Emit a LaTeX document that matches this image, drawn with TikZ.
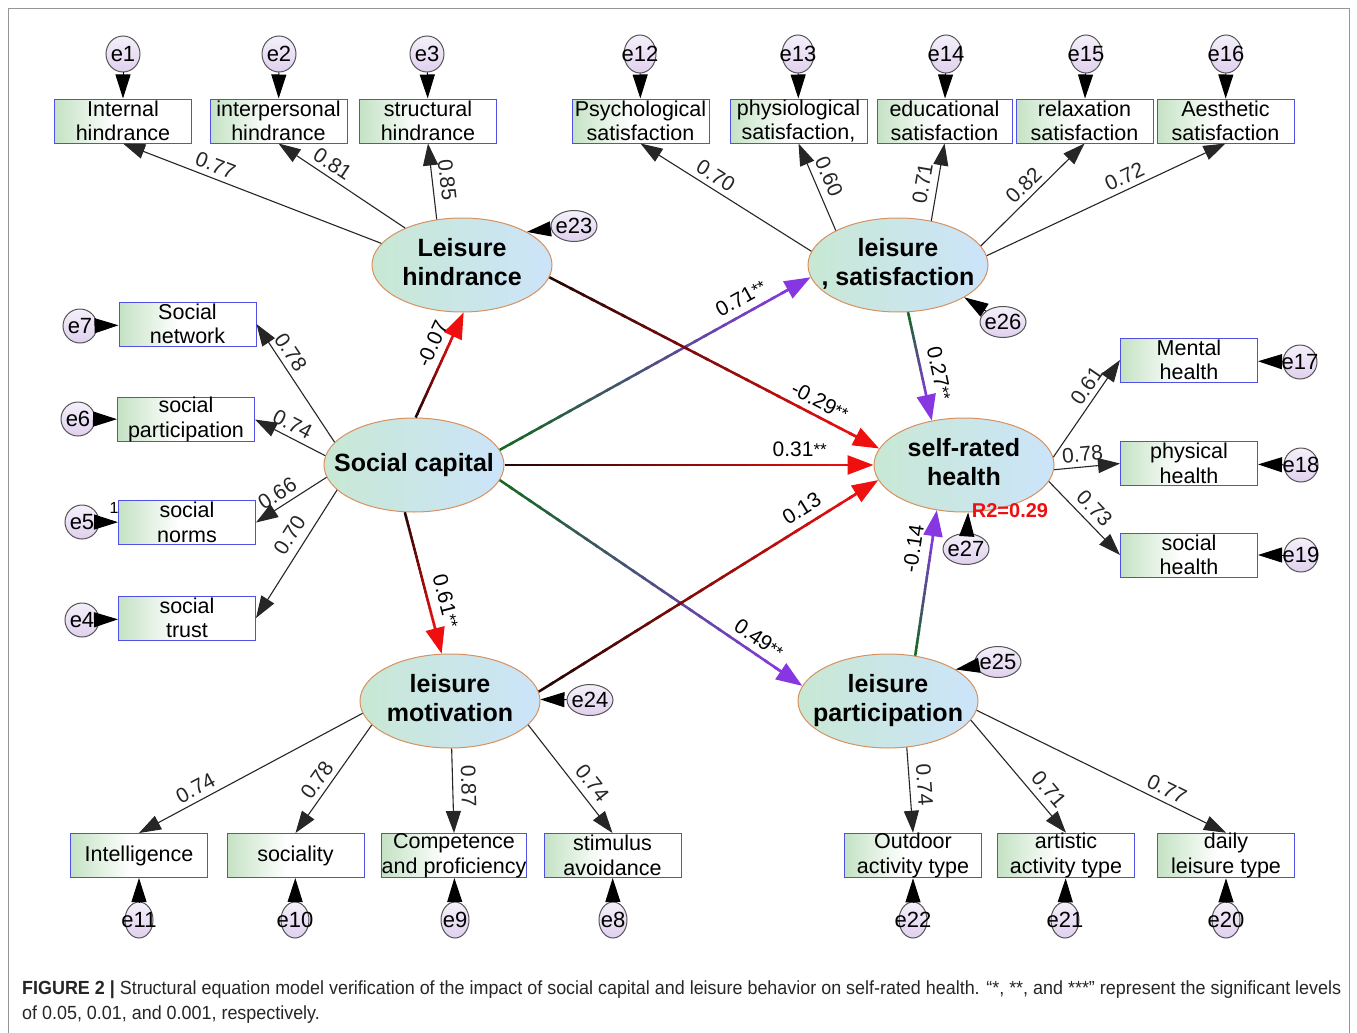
\documentclass[tikz,border=0pt]{standalone}
\usepackage{fontspec}
\setmainfont{Liberation Sans}
\usepackage{graphicx}
\usetikzlibrary{shapes.geometric,arrows.meta,calc}
\definecolor{boxgreen}{RGB}{196,226,196}
\definecolor{boxblue}{RGB}{80,80,230}
\definecolor{latgreen}{RGB}{200,232,212}
\definecolor{latblue}{RGB}{204,228,250}
\definecolor{latorange}{RGB}{215,145,95}
\definecolor{errtop}{RGB}{244,240,250}
\definecolor{errbot}{RGB}{224,208,238}
\definecolor{errgray}{RGB}{85,85,85}
\definecolor{cdark}{RGB}{35,5,5}
\definecolor{cred}{RGB}{240,15,15}
\definecolor{cgreen}{RGB}{20,105,30}
\definecolor{cpurple}{RGB}{135,55,225}
\definecolor{framegray}{RGB}{150,150,150}
\pgfdeclarehorizontalshading{boxshade}{100bp}{color(0bp)=(boxgreen); color(25bp)=(boxgreen); color(47bp)=(white); color(100bp)=(white)}
\newcommand\obsfont{\fontsize{21.5}{24.5}\selectfont}
\newcommand\latfont{\fontsize{25}{29}\selectfont\bfseries}
\newcommand\errfont{\fontsize{22}{22}\selectfont}
\newcommand\labfont{\fontsize{21}{21}\selectfont}
\newcommand\zw[1]{\makebox[0pt]{#1}}
\newcommand\twol[2]{\makebox[0pt]{\begin{tabular}{@{}c@{}}#1\\#2\end{tabular}}}
\newcommand\sig{\raisebox{1pt}{\fontsize{17}{17}\selectfont**}}
\newcommand\gradarrow[5]{%
  \coordinate (ga-e) at ($#2!23pt!#1$);
  \foreach \i in {0,...,29}{%
    \pgfmathsetmacro\ta{\i/30}%
    \pgfmathsetmacro\tb{min(1,(\i+1.4)/30)}%
    \pgfmathtruncatemacro\pc{100*(\i+0.5)/30}%
    \draw[line width=2.5pt,color=#4!\pc!#3] ($#1!\ta!(ga-e)$) -- ($#1!\tb!(ga-e)$);
  }%
  \draw[struct,#4] ($#1!0.97!(ga-e)$) -- #2;
  \path #1 -- #2 #5;
}
\tikzset{
  obs/.style={draw=boxblue, line width=1pt, shade, shading=boxshade, minimum width=137pt, minimum height=44pt, inner sep=0pt, align=center, font=\obsfont},
  lat/.style={ellipse, draw=latorange, line width=1pt, left color=latgreen, right color=latblue, minimum width=180pt, minimum height=94pt, inner sep=0pt, font=\latfont},
  err/.style={ellipse, draw=errgray, line width=1pt, top color=errtop, bottom color=errbot, inner sep=0pt, font=\errfont},
  errc/.style={err, minimum width=34pt, minimum height=36pt},
  errn/.style={err, minimum width=32pt, minimum height=38pt},
  errb/.style={err, minimum width=28pt, minimum height=36pt},
  errh/.style={err, minimum width=46pt, minimum height=31pt},
  load/.style={-{Triangle[length=22pt,width=15pt]}, line width=1.1pt, black!85},
  errarr/.style={-{Triangle[length=24pt,width=15pt]}, line width=1pt, black},
  struct/.style={line width=2.5pt, -{Triangle[length=26pt,width=19pt]}},
  lab/.style={sloped, above, font=\labfont, inner sep=5pt},
}
\begin{document}
\begin{tikzpicture}[x=1pt,y=-1pt]
\useasboundingbox (0,0) rectangle (1357,1033);
\fill[white] (0,0) rectangle (1357,1033);
\draw[framegray, line width=0.8pt] (8,1040) -- (8,8) -- (1349,8) -- (1349,1040);

% latent variables
\node[lat] (lh) at (462,265) {\twol{Leisure}{hindrance}};
\node[lat] (ls) at (898,265) {\twol{leisure}{, satisfaction}};
\node[lat] (sc) at (414,465) {\zw{Social capital}};
\node[lat] (srh) at (964,465) {\twol{self-rated}{health}};
\node[lat] (lm) at (450,701) {\twol{leisure}{motivation}};
\node[lat] (lp) at (888,701) {\twol{leisure}{participation}};

% observed variables
\node[obs] (ib) at (123,121) {Internal\\hindrance};
\node[obs] (ipb) at (278.5,121) {interpersonal\\hindrance};
\node[obs] (sb) at (428,121) {structural\\hindrance};
\node[obs] (psy) at (640.5,121) {Psychological\\satisfaction};
\node[obs] (phy) at (798.5,121) {physiological\\satisfaction,};
\node[obs,minimum width=135pt] (edu) at (944.5,121) {educational\\satisfaction};
\node[obs] (rel) at (1084.5,121) {relaxation\\satisfaction};
\node[obs] (aes) at (1225.5,121) {Aesthetic\\satisfaction};
\node[obs] (sn) at (187.5,324) {Social\\network};
\node[obs] (sp) at (186,419.5) {social\\participation};
\node[obs] (sno) at (187,522.5) {social\\norms};
\node[obs] (st) at (187,618) {social\\trust};
\node[obs] (mh) at (1189,360) {Mental\\health};
\node[obs] (ph) at (1189,463.5) {physical\\health};
\node[obs] (sh) at (1189,555) {social\\health};
\node[obs] (intl) at (139,855.5) {Intelligence};
\node[obs] (soc) at (295.5,855.5) {sociality};
\node[obs,minimum width=144pt] (com) at (454,855.5) {Competence\\and proficiency};
\node[obs] (sti) at (612.5,855.5) {stimulus\\avoidance};
\node[obs] (oat) at (913,855.5) {Outdoor\\activity type};
\node[obs] (aat) at (1066,855.5) {artistic\\activity type};
\node[obs] (dlt) at (1226,855.5) {daily\\leisure type};

% error terms
\node[errc] (e1) at (123,54) {\zw{e1}};
\node[errc] (e2) at (279,54) {\zw{e2}};
\node[errc] (e3) at (427,54) {\zw{e3}};
\node[errn] (e12) at (640,54) {\zw{e12}};
\node[errn] (e13) at (798,54) {\zw{e13}};
\node[errn] (e14) at (946,54) {\zw{e14}};
\node[errn] (e15) at (1086,54) {\zw{e15}};
\node[errn] (e16) at (1226,54) {\zw{e16}};
\node[errc,minimum height=34pt] (e7) at (80,326) {\zw{e7}};
\node[errc,minimum height=34pt] (e6) at (78,419) {\zw{e6}};
\node[errc,minimum height=34pt] (e5) at (82,522) {\zw{e5}};
\node[errc,minimum height=34pt] (e4) at (82,620) {\zw{e4}};
\node[errc,minimum height=34pt] (e17) at (1300,362) {\zw{e17}};
\node[errc,minimum height=34pt] (e18) at (1301,465) {\zw{e18}};
\node[errc,minimum height=34pt] (e19) at (1301,555) {\zw{e19}};
\node[errb] (e11) at (139,920) {\zw{e11}};
\node[errb] (e10) at (295,920) {\zw{e10}};
\node[errb] (e9) at (455,920) {\zw{e9}};
\node[errb] (e8) at (613,920) {\zw{e8}};
\node[errb] (e22) at (913,920) {\zw{e22}};
\node[errb] (e21) at (1065,920) {\zw{e21}};
\node[errb] (e20) at (1226,920) {\zw{e20}};
\node[errh] (e23) at (574,226) {\zw{e23}};
\node[errh] (e26) at (1003,322) {\zw{e26}};
\node[errh] (e27) at (966,549) {\zw{e27}};
\node[errh] (e24) at (590,700) {\zw{e24}};
\node[errh] (e25) at (998,662) {\zw{e25}};

\node[font=\fontsize{20}{20}\selectfont\bfseries, text=cred, inner sep=0pt] (rsq) at (1010,511) {R2=0.29};
\node[font=\fontsize{16}{16}\selectfont, inner sep=0pt] (one) at (114,508) {1};

% error arrows
\foreach \e/\b in {e1/ib,e2/ipb,e3/sb,e12/psy,e13/phy,e14/edu,e15/rel,e16/aes,e7/sn,e6/sp,e5/sno,e4/st,e17/mh,e18/ph,e19/sh,e11/intl,e10/soc,e9/com,e8/sti,e22/oat,e21/aat,e20/dlt}
  \draw[errarr] (\e) -- (\b);
\draw[errarr] (e23) -- (lh.27);
\draw[errarr] (e26) -- (ls.-26);
\draw[errarr] (e27) -- (srh.-85);
\draw[errarr] (e24) -- (lm.1);
\draw[errarr] (e25) -- (lp.25);

% loadings
\draw[load] (lh.165) -- (ib.south) node[lab,pos=.66]{0.77};
\draw[load] (lh.147) -- (ipb.south) node[lab,pos=.63]{0.81};
\draw[load] (lh.119) -- (sb.south) node[lab,pos=.5,inner sep=7pt]{0.85};
\draw[load] (ls.171) -- (psy.south) node[lab,pos=.6]{0.70};
\draw[load] (ls.151) -- (phy.south) node[lab,pos=.55,inner sep=7pt]{0.60};
\draw[load] (ls.53) -- (edu.south) node[lab,pos=.45,inner sep=7pt]{0.71};
\draw[load] (ls.13) -- (rel.south) node[lab,pos=.5]{0.82};
\draw[load] (ls.6) -- (aes.south) node[lab,pos=.6]{0.72};
\draw[load] (sc.164) -- (sn.east) node[lab,pos=.7]{0.78};
\draw[load] (sc.174) -- (sp.east) node[lab,pos=.55]{0.74};
\draw[load] (sc.188) -- (sno.east) node[lab,pos=.6]{0.66};
\draw[load] (sc.198) -- (st.east) node[lab,pos=.42,inner sep=8pt]{0.70};
\draw[load] (srh.5) -- (mh.west) node[lab,pos=.66]{0.61};
\draw[load] (srh.-3) -- (ph.west) node[lab,pos=.45]{0.78};
\draw[load] (srh.-11) -- (sh.west) node[lab,pos=.5,inner sep=6pt]{0.73};
\draw[load] (lm.188) -- (intl.north) node[lab,pos=.72]{0.74};
\draw[load] (lm.197) -- (soc.north) node[lab,pos=.58]{0.78};
\draw[load] (lm.-88) -- (com.north) node[lab,pos=.45,inner sep=8pt]{0.87};
\draw[load] (lm.-17) -- (sti.north) node[lab,pos=.62,inner sep=7pt]{0.74};
\draw[load] (lp.-68) -- (oat.north) node[lab,pos=.45,inner sep=7pt]{0.74};
\draw[load] (lp.-13) -- (aat.north) node[lab,pos=.7,inner sep=7pt]{0.71};
\draw[load] (lp.-6) -- (dlt.north) node[lab,pos=.74]{0.77};

% structural paths
\gradarrow{(sc.88)}{(lh.-88)}{cdark}{cred}{node[lab,pos=.64,inner sep=8pt]{-0.07}}
\gradarrow{(sc.10)}{(ls.188)}{cgreen}{cpurple}{node[lab,pos=.8,inner sep=8pt]{0.71\sig}}
\gradarrow{(lh.-8)}{(srh.169)}{cdark}{cred}{node[lab,pos=.8,inner sep=7pt]{-0.29\sig}}
\gradarrow{(sc.0)}{(srh.180)}{cdark}{cred}{node[lab,pos=.8,inner sep=8pt]{0.31\sig}}
\gradarrow{(sc.-10)}{(lp.170)}{cgreen}{cpurple}{node[lab,pos=.83,inner sep=7pt]{0.49\sig}}
\gradarrow{(sc.259)}{(lm.100)}{cdark}{cred}{node[lab,pos=.66,inner sep=10pt]{0.61\sig}}
\gradarrow{(lm.6)}{(srh.190)}{cdark}{cred}{node[lab,pos=.8,inner sep=9pt]{0.13}}
\gradarrow{(ls.-78)}{(srh.126)}{cgreen}{cpurple}{node[lab,pos=.6,inner sep=10pt]{0.27\sig}}
\gradarrow{(lp.59)}{(srh.239)}{cgreen}{cpurple}{node[lab,pos=.72,inner sep=10pt]{-0.14}}

% caption
\node[anchor=base west, inner sep=0pt, text=black!85] (cap) at (22,994) {\resizebox{1319pt}{\height}{\fontsize{19}{25}\selectfont\begin{tabular}[t]{@{}l@{}}\textbf{FIGURE 2 |} Structural equation model verification of the impact of social capital and leisure behavior on self-rated health. “*, **, and ***” represent the significant levels\\of 0.05, 0.01, and 0.001, respectively.\end{tabular}}};
\end{tikzpicture}
\end{document}
